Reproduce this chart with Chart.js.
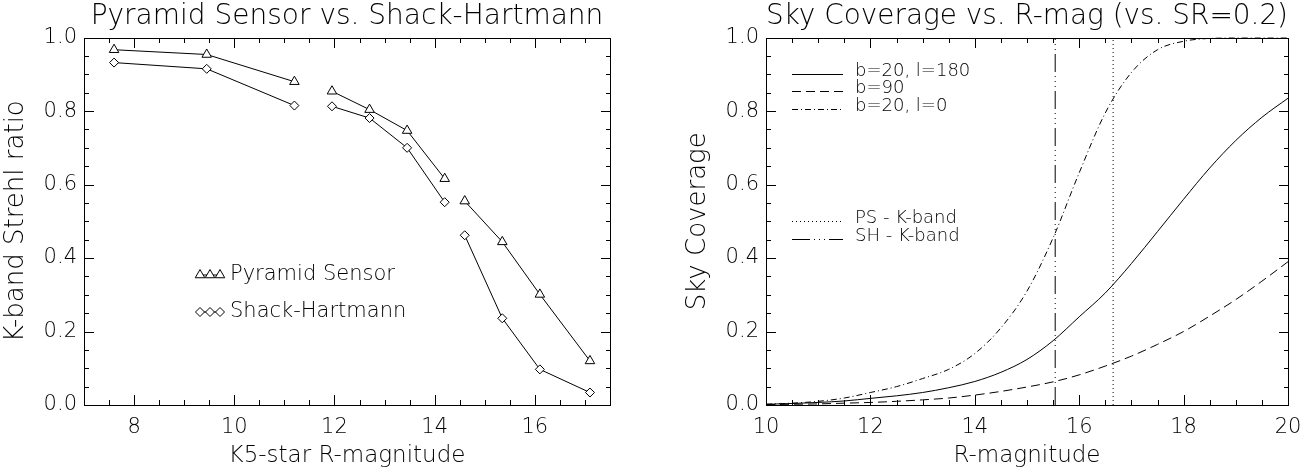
<!DOCTYPE html>
<html>
<head>
<meta charset="utf-8">
<script src="https://cdn.jsdelivr.net/npm/chart.js@4.4.1/dist/chart.umd.min.js"></script>
<style>
  html, body { margin: 0; padding: 0; background: #fff; }
  #wrap { position: relative; width: 1312px; height: 470px; }
  .panel { position: absolute; top: 0; width: 656px; height: 470px; }
</style>
</head>
<body>
<div id="wrap">
  <div class="panel" style="left:0"><canvas id="strehlChart"></canvas></div>
  <div class="panel" style="left:656px"><canvas id="skyChart"></canvas></div>
</div>
<script>
// --- left panel: K-band Strehl ratio vs. guide star magnitude
const starMag  = [7.6, 9.45, 11.2, 11.95, 12.7, 13.45, 14.2, 14.6, 15.35, 16.1, 17.1];
const strehlPS = [0.967, 0.954, 0.880, 0.854, 0.804, 0.747, 0.616, 0.555, 0.444, 0.301, 0.120];
const strehlSH = [0.932, 0.915, 0.815, 0.813, 0.781, 0.700, 0.552, 0.462, 0.236, 0.097, 0.034];
const lineBreaks = [2, 6];          // no connecting line after these points
const strehlXTicks = [8, 10, 12, 14, 16];

// --- right panel: sky coverage vs. R magnitude
const rMag       = [10, 10.5, 11, 11.5, 12, 12.5, 13, 13.5, 14, 14.5, 15, 15.5, 16, 16.5, 17, 17.5, 18, 18.5, 19, 19.5, 20];
const skyB20L180 = [0.002, 0.004, 0.007, 0.011, 0.018, 0.025, 0.034, 0.047, 0.064, 0.089, 0.124, 0.175, 0.24, 0.305, 0.385, 0.472, 0.56, 0.645, 0.72, 0.783, 0.835];
const skyB90     = [0.001, 0.002, 0.003, 0.005, 0.007, 0.010, 0.014, 0.019, 0.027, 0.037, 0.049, 0.063, 0.082, 0.106, 0.133, 0.165, 0.2, 0.242, 0.287, 0.337, 0.39];
const skyB20L0   = [0.002, 0.005, 0.010, 0.019, 0.034, 0.05, 0.072, 0.097, 0.14, 0.21, 0.31, 0.455, 0.632, 0.795, 0.905, 0.967, 0.99, 0.998, 1.0, 1.0, 1.0];
const psLimit = 16.65;   // PS - K-band, SR = 0.2
const shLimit = 15.54;   // SH - K-band, SR = 0.2
const skyXTicks = [10, 12, 14, 16, 18, 20];
const yTicks = [0, 0.2, 0.4, 0.6, 0.8, 1.0];

const FONT = "'DejaVu Sans', sans-serif";
const DASH = {
  solid: [],
  dashed: [9, 5],
  dashdot: [6, 3, 1, 3],
  dotted: [1, 3],
  dash3dot: [18, 4, 1, 4, 1, 4, 1, 4]
};

Chart.defaults.font.family = FONT;
Chart.defaults.font.weight = 200;
Chart.defaults.color = '#000';
Chart.defaults.animation = false;

// IDL style box with inward ticks on all four sides
function idlFrame(xMajor, xMinor, yMinor) {
  return {
    id: 'idlFrame',
    afterDraw(chart) {
      const ctx = chart.ctx, a = chart.chartArea;
      const xs = chart.scales.x, ys = chart.scales.y;
      const L = Math.round(a.left), R = Math.round(a.right);
      const T = Math.round(a.top), B = Math.round(a.bottom);
      const near = (list, v) => list.some(t => Math.abs(t - v) < 1e-6);
      ctx.save();
      ctx.fillStyle = '#000';
      // box
      ctx.fillRect(L, T, R - L + 1, 1);
      ctx.fillRect(L, B, R - L + 1, 1);
      ctx.fillRect(L, T, 1, B - T + 1);
      ctx.fillRect(R, T, 1, B - T + 1);
      const nx = Math.round((xs.max - xs.min) / xMinor);
      for (let i = 0; i <= nx; i++) {
        const v = xs.min + i * xMinor;
        const len = near(xMajor, v) ? 10 : 5;
        const px = Math.round(xs.getPixelForValue(v));
        ctx.fillRect(px, B - len, 1, len);
        ctx.fillRect(px, T, 1, len);
      }
      const ny = Math.round((ys.max - ys.min) / yMinor);
      for (let i = 0; i <= ny; i++) {
        const v = ys.min + i * yMinor;
        const len = near(yTicks, v) ? 10 : 5;
        const py = Math.round(ys.getPixelForValue(v));
        ctx.fillRect(L, py, len, 1);
        ctx.fillRect(R - len + 1, py, len, 1);
      }
      ctx.restore();
    }
  };
}

function fixedTicks(list) {
  return scale => { scale.ticks = list.map(v => ({ value: v })); };
}

function axes(xMin, xMax, xList, xTitle, yTitle, yWidth, yTitlePad) {
  return {
    x: {
      type: 'linear', min: xMin, max: xMax,
      afterBuildTicks: fixedTicks(xList),
      afterFit: s => { s.height = 65; },
      grid: { display: false, drawTicks: false },
      border: { display: false },
      ticks: { font: { size: 21 }, padding: 10, maxRotation: 0, callback: v => String(v) },
      title: { display: true, text: xTitle, font: { size: 23 }, padding: 0 }
    },
    y: {
      min: 0, max: 1,
      afterBuildTicks: fixedTicks(yTicks),
      afterFit: s => { s.width = yWidth; },
      grid: { display: false, drawTicks: false },
      border: { display: false },
      ticks: { font: { size: 21 }, padding: 7, callback: v => v.toFixed(1) },
      title: { display: true, text: yTitle, font: { size: 26 }, padding: { top: yTitlePad, bottom: 0 } }
    }
  };
}

function titleOpts(text) {
  return { display: true, text: text, fullSize: false, color: '#000',
           font: { size: 28, weight: 200 }, padding: { top: 0, bottom: 4 } };
}

// ---- left chart
const breakSeg = c => lineBreaks.includes(c.p0DataIndex) ? 'rgba(0,0,0,0)' : '#000';

const strehlKey = {
  id: 'strehlKey',
  afterDraw(chart) {
    const { ctx, chartArea: a } = chart;
    const items = [
      { label: 'Pyramid Sensor', style: 'triangle', r: 5.5, y: 275 },
      { label: 'Shack-Hartmann', style: 'rectRot', r: 4.5, y: 312 }
    ];
    ctx.save();
    ctx.font = '200 21px ' + FONT;
    ctx.textBaseline = 'middle';
    items.forEach(it => {
      const x0 = a.left + 116, x1 = a.left + 136;
      ctx.strokeStyle = '#000';
      ctx.lineWidth = 1;
      ctx.beginPath(); ctx.moveTo(x0, it.y); ctx.lineTo(x1, it.y); ctx.stroke();
      [x0, (x0 + x1) / 2, x1].forEach(px => {
        ctx.fillStyle = '#fff';
        Chart.helpers.drawPoint(ctx, { pointStyle: it.style, radius: it.r, borderWidth: 1, rotation: 0 }, px, it.y);
      });
      ctx.fillStyle = '#000';
      ctx.fillText(it.label, a.left + 146, it.y);
    });
    ctx.restore();
  }
};

new Chart(document.getElementById('strehlChart'), {
  type: 'line',
  data: {
    datasets: [
      { label: 'Pyramid Sensor', data: starMag.map((m, i) => ({ x: m, y: strehlPS[i] })),
        pointStyle: 'triangle', pointRadius: 5.5 },
      { label: 'Shack-Hartmann', data: starMag.map((m, i) => ({ x: m, y: strehlSH[i] })),
        pointStyle: 'rectRot', pointRadius: 4.5 }
    ].map(d => Object.assign(d, {
      borderColor: '#000', borderWidth: 1, tension: 0,
      pointBackgroundColor: '#fff', pointBorderColor: '#000', pointBorderWidth: 1,
      segment: { borderColor: breakSeg }
    }))
  },
  options: {
    responsive: true,
    maintainAspectRatio: false,
    layout: { padding: { right: 46 } },
    plugins: {
      legend: { display: false },
      tooltip: { enabled: false },
      title: titleOpts('Pyramid Sensor vs. Shack-Hartmann')
    },
    scales: axes(7, 17.5, strehlXTicks, 'K5-star R-magnitude', 'K-band Strehl ratio', 84, 1)
  },
  plugins: [idlFrame(strehlXTicks, 0.5, 0.05), strehlKey]
});

// ---- right chart
const curves = [
  { label: 'b=20, l=180', values: skyB20L180, dash: DASH.solid },
  { label: 'b=90', values: skyB90, dash: DASH.dashed },
  { label: 'b=20, l=0', values: skyB20L0, dash: DASH.dashdot }
];
const limits = [
  { label: 'PS - K-band', mag: psLimit, dash: DASH.dotted },
  { label: 'SH - K-band', mag: shLimit, dash: DASH.dash3dot }
];

const skyKey = {
  id: 'skyKey',
  afterDraw(chart) {
    const { ctx, chartArea: a } = chart;
    const rows = [
      { item: curves[0], y: 71 }, { item: curves[1], y: 88 }, { item: curves[2], y: 106 },
      { item: limits[0], y: 218 }, { item: limits[1], y: 236 }
    ];
    ctx.save();
    ctx.font = '200 18px ' + FONT;
    ctx.textBaseline = 'middle';
    ctx.fillStyle = '#000';
    ctx.strokeStyle = '#000';
    ctx.lineWidth = 1;
    rows.forEach(r => {
      ctx.setLineDash(r.item.dash);
      ctx.beginPath();
      ctx.moveTo(a.left + 26, r.y + 3.5); ctx.lineTo(a.left + 77, r.y + 3.5);
      ctx.stroke();
      ctx.fillText(r.item.label, a.left + 89, r.y);
    });
    ctx.restore();
  }
};

new Chart(document.getElementById('skyChart'), {
  type: 'line',
  data: {
    datasets: curves.map(c => ({
      label: c.label,
      data: rMag.map((m, i) => ({ x: m, y: c.values[i] })),
      borderDash: c.dash, cubicInterpolationMode: 'monotone'
    })).concat(limits.map(l => ({
      label: l.label,
      data: [{ x: l.mag, y: 0 }, { x: l.mag, y: 1 }],
      borderDash: l.dash
    }))).map(d => Object.assign(d, { borderColor: '#000', borderWidth: 1, pointRadius: 0 }))
  },
  options: {
    responsive: true,
    maintainAspectRatio: false,
    layout: { padding: { right: 24 } },
    plugins: {
      legend: { display: false },
      tooltip: { enabled: false },
      title: titleOpts('Sky Coverage vs. R-mag (vs. SR=0.2)')
    },
    scales: axes(10, 20, skyXTicks, 'R-magnitude', 'Sky Coverage', 110, 27)
  },
  plugins: [idlFrame(skyXTicks, 0.5, 0.05), skyKey]
});
</script>
</body>
</html>
